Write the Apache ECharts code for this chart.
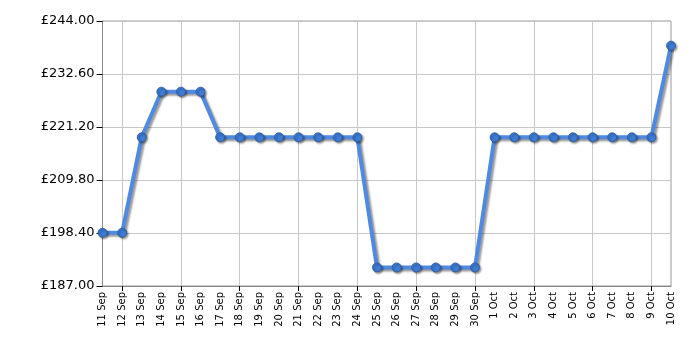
<!DOCTYPE html>
<html><head><meta charset="utf-8">
<script src="https://cdn.jsdelivr.net/npm/echarts@6/dist/echarts.min.js"></script>
<style>html,body{margin:0;padding:0;background:#fff}#c{width:700px;height:350px}</style>
</head><body><div id="c"></div>
<script>
const categories = ['11 Sep','12 Sep','13 Sep','14 Sep','15 Sep','16 Sep','17 Sep','18 Sep','19 Sep','20 Sep','21 Sep','22 Sep','23 Sep','24 Sep','25 Sep','26 Sep','27 Sep','28 Sep','29 Sep','30 Sep','1 Oct','2 Oct','3 Oct','4 Oct','5 Oct','6 Oct','7 Oct','8 Oct','9 Oct','10 Oct'];
const prices = [198.45,198.45,218.99,228.8,228.8,228.8,218.99,218.99,218.99,218.99,218.99,218.99,218.99,218.99,190.99,190.99,190.99,190.99,190.99,190.99,218.99,218.99,218.99,218.99,218.99,218.99,218.99,218.99,218.99,238.7];
const yMin = 187, yMax = 244, yStep = 11.4;

const chart = echarts.init(document.getElementById('c'));
chart.setOption({
  animation: false,
  grid: {left: 102.5, right: 29, top: 21, bottom: 64, show: true, borderColor: '#999', borderWidth: 1, backgroundColor: 'transparent'},
  xAxis: {
    type: 'category', data: categories, boundaryGap: false,
    axisLine: {lineStyle: {color: '#888'}},
    axisTick: {show: true, interval: (i) => i % 3 === 1, length: 5, lineStyle: {color: '#000'}},
    splitLine: {show: true, interval: (i) => i % 3 === 1, lineStyle: {color: '#c8c8c8'}},
    axisLabel: {rotate: 90, interval: 0, fontFamily: 'DejaVu Sans', fontSize: 10, color: '#000', margin: 6}
  },
  yAxis: {
    type: 'value', min: yMin, max: yMax, interval: yStep,
    axisLine: {show: true, lineStyle: {color: '#888'}},
    axisTick: {show: true, length: 6, lineStyle: {color: '#000'}},
    splitLine: {show: true, lineStyle: {color: '#c8c8c8'}},
    axisLabel: {formatter: (v) => '£' + v.toFixed(2), fontFamily: 'DejaVu Sans', fontSize: 13, color: '#000', margin: 8}
  },
  series: [{
    type: 'line', data: prices, symbol: 'circle', symbolSize: 9,
    lineStyle: {color: '#4f8ae0', width: 4, shadowColor: 'rgba(0,0,0,0.4)', shadowBlur: 2, shadowOffsetX: 2, shadowOffsetY: 2},
    itemStyle: {color: '#3d7bd4', borderColor: '#2a5aa0', borderWidth: 0.8, shadowColor: 'rgba(0,0,0,0.4)', shadowBlur: 2, shadowOffsetX: 1.5, shadowOffsetY: 1.5}
  }]
});
</script></body></html>
